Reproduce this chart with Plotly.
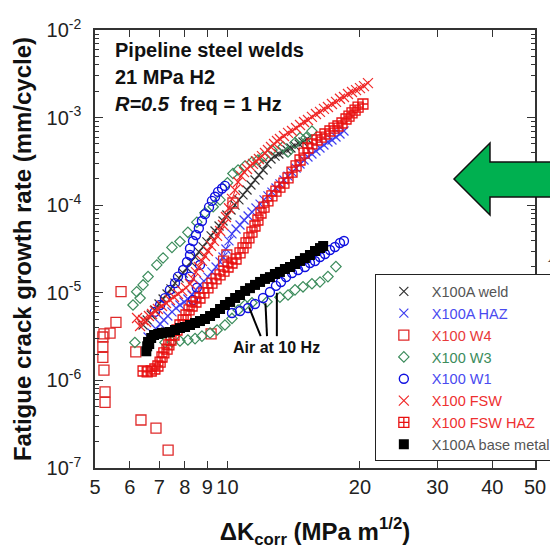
import math
import plotly.graph_objects as go

# ---------------- data (ΔK in MPa m^1/2, da/dN in mm/cycle) ----------------
weld_k = [6.43, 6.57, 6.71, 6.84, 6.99, 7.14, 7.29, 7.44, 7.60, 7.76, 7.93, 8.09, 8.26, 8.44,
          8.61, 8.80, 8.98, 9.18, 9.37, 9.57, 9.77, 9.97, 10.19, 10.40, 10.62, 10.85, 11.08,
          11.31, 11.55, 11.79, 12.05, 12.30, 12.56, 12.83, 13.09, 13.37, 13.65, 13.94, 14.24,
          14.55, 14.85, 15.17]
weld_da = [4.29e-6, 4.89e-6, 5.58e-6, 6.37e-6, 7.45e-6, 8.5e-6, 9.69e-6, 1.11e-5, 1.29e-5,
           1.47e-5, 1.68e-5, 1.92e-5, 2.25e-5, 2.57e-5, 2.93e-5, 3.34e-5, 3.81e-5, 4.46e-5,
           5.07e-5, 5.79e-5, 6.6e-5, 7.73e-5, 8.81e-5, 1.0e-4, 1.15e-4, 1.31e-4, 1.49e-4,
           1.70e-4, 1.94e-4, 2.21e-4, 2.52e-4, 2.96e-4, 3.37e-4, 3.64e-4, 3.84e-4, 4.05e-4,
           4.27e-4, 4.5e-4, 4.75e-4, 5.0e-4, 5.27e-4, 5.7e-4]

haz_k = [6.60, 6.74, 6.88, 7.03, 7.17, 7.32, 7.48, 7.64, 7.80, 7.97, 8.13, 8.31, 8.48, 8.66,
         8.84, 9.03, 9.22, 9.42, 9.62, 9.77, 9.92, 10.08, 10.24, 10.46, 10.68, 10.91, 11.14,
         11.37, 11.61, 11.86, 12.11, 12.36, 12.62, 12.89, 13.16, 13.44, 13.73, 14.02, 14.32,
         14.62, 14.93, 15.24, 15.56, 15.89, 16.23, 16.57, 16.92, 17.28, 17.65, 18.02, 18.40]
haz_da = [3.13e-6, 3.47e-6, 3.86e-6, 4.40e-6, 4.89e-6, 5.44e-6, 6.05e-6, 6.7e-6, 7.26e-6,
          7.85e-6, 8.5e-6, 9.44e-6, 1.08e-5, 1.23e-5, 1.36e-5, 1.51e-5, 1.73e-5, 1.97e-5,
          2.25e-5, 2.56e-5, 3.16e-5, 3.91e-5, 4.7e-5, 5.35e-5, 5.94e-5, 6.78e-5, 7.53e-5,
          8.36e-5, 9.3e-5, 1.03e-4, 1.15e-4, 1.28e-4, 1.41e-4, 1.57e-4, 1.75e-4, 1.94e-4,
          2.15e-4, 2.39e-4, 2.65e-4, 2.95e-4, 3.28e-4, 3.55e-4, 3.84e-4, 4.16e-4, 4.5e-4,
          4.87e-4, 5.27e-4, 5.55e-4, 6.0e-4, 6.5e-4, 7.03e-4]

w4_k = [5.73, 5.58, 5.41, 5.24, 5.21, 5.21, 5.21, 5.24, 5.27, 5.27, 6.19, 6.36, 6.88, 7.33,
        9.18, 9.80, 9.97, 10.29]
w4_da = [1.03e-5, 4.6e-6, 3.47e-6, 3.4e-6, 3.13e-6, 2.43e-6, 1.83e-6, 1.31e-6, 7.4e-7, 5.6e-7,
         2.12e-6, 3.53e-7, 2.85e-7, 1.6e-7, 3.4e-6, 2.3e-5, 2.7e-5, 1.06e-4]

w3_k = [6.16, 6.10, 6.22, 6.33, 6.43, 6.60, 6.91, 7.14, 7.48, 7.80, 8.13, 8.52, 8.89, 9.28, 9.62,
        10.0, 10.29, 10.57, 10.96, 11.37, 11.73, 12.05, 12.62, 13.37, 13.73, 14.24, 14.62,
        15.09, 15.56,
        7.21, 7.48, 7.80, 8.13, 8.44, 8.75, 9.13, 9.47, 9.87, 10.24, 10.57, 10.96, 11.37,
        12.3, 13.16, 13.73, 14.24, 14.85, 15.56, 16.23, 16.92, 17.64]
w3_da = [2.71e-6, 7.26e-6, 1.03e-5, 8.7e-6, 1.23e-5, 1.53e-5, 2.08e-5, 2.5e-5, 3.3e-5, 3.85e-5,
         4.9e-5, 6.4e-5, 8.2e-5, 9.6e-5, 1.15e-4, 1.8e-4, 2.3e-4, 2.52e-4, 2.8e-4, 3.1e-4,
         3.28e-4, 3.55e-4, 4.27e-4, 4.65e-4, 4.05e-4, 5.15e-4, 5.9e-4, 5.9e-4, 7.0e-4,
         2.71e-6, 2.75e-6, 2.82e-6, 2.89e-6, 3.0e-6, 3.2e-6, 3.47e-6, 3.76e-6, 4.29e-6, 5.1e-6,
         6.37e-6, 7.26e-6, 7.7e-6, 7.9e-6, 8.9e-6, 9.44e-6, 1.08e-5, 1.17e-5, 1.27e-5, 1.33e-5,
         1.53e-5, 1.99e-5]

w1_k = [6.84, 7.03, 7.21, 7.40, 7.60, 7.72, 7.93, 8.09, 8.22, 8.22, 8.35, 8.48, 8.61, 8.75, 8.89,
        9.08, 9.22, 9.37, 9.52, 9.72, 9.87, 8.35, 8.52, 8.22, 8.66,
        10.24, 10.68, 11.14, 11.55, 12.05, 12.49, 12.89, 13.23, 13.59, 14.02, 14.47, 15.0,
        15.40, 15.81, 16.23, 16.66, 17.10, 17.55, 18.02, 18.4]
w1_da = [6.05e-6, 7.26e-6, 8.7e-6, 1.08e-5, 1.29e-5, 1.53e-5, 1.82e-5, 2.25e-5, 2.70e-5, 3.2e-5,
         3.9e-5, 4.57e-5, 5.45e-5, 6.6e-5, 7.9e-5, 9.5e-5, 1.12e-4, 1.25e-4, 1.42e-4, 1.55e-4,
         1.66e-4, 8.28e-6, 1.14e-5, 1.53e-5, 2.08e-5,
         5.88e-6, 6.20e-6, 6.70e-6, 7.45e-6, 8.73e-6, 1.02e-5, 1.20e-5, 1.33e-5, 1.51e-5, 1.68e-5,
         1.82e-5, 1.97e-5, 2.19e-5, 2.31e-5, 2.56e-5, 2.77e-5, 3.08e-5, 3.33e-5, 3.70e-5, 3.90e-5]

fsw_k = [6.23, 6.33, 6.43, 6.53, 6.63, 6.74, 6.84, 6.95, 7.10, 7.25, 7.40, 7.56, 7.72, 7.89,
         8.05, 8.22, 8.35, 8.48, 8.61, 8.75, 8.89, 9.03, 9.18, 9.32, 9.47, 9.62, 9.77, 9.92,
         10.08, 10.24, 10.40, 10.57, 10.74, 10.91, 11.08, 11.25, 11.43, 11.61, 11.79, 11.98,
         12.17, 12.36, 12.56, 12.76, 12.96, 13.16, 13.44, 13.73, 14.02, 14.32, 14.62, 14.93,
         15.24, 15.56, 15.89, 16.23, 16.57, 16.92, 17.28, 17.65, 18.02, 18.40, 18.79, 19.19,
         19.60, 20.01, 20.43, 20.86]
fsw_da = [5.16e-6, 4.18e-6, 4.89e-6, 4.64e-6, 5.44e-6, 5.73e-6, 6.2e-6, 6.54e-6, 7.07e-6,
          7.65e-6, 8.28e-6, 8.96e-6, 9.69e-6, 1.05e-5, 1.14e-5, 1.26e-5, 1.44e-5, 1.72e-5,
          1.97e-5, 2.31e-5, 2.63e-5, 3.0e-5, 3.43e-5, 3.91e-5, 4.46e-5, 5.07e-5, 5.94e-5,
          7.34e-5, 9.24e-5, 1.18e-4, 1.49e-4, 1.84e-4, 2.15e-4, 2.39e-4, 2.59e-4, 2.81e-4,
          2.96e-4, 3.19e-4, 3.37e-4, 3.64e-4, 3.94e-4, 4.27e-4, 4.62e-4, 5.0e-4, 5.41e-4,
          5.7e-4, 6.17e-4, 6.68e-4, 7.03e-4, 7.6e-4, 8.24e-4, 8.91e-4, 9.39e-4, 1.02e-3,
          1.10e-3, 1.16e-3, 1.26e-3, 1.32e-3, 1.43e-3, 1.51e-3, 1.64e-3, 1.72e-3, 1.86e-3,
          1.96e-3, 2.06e-3, 2.17e-3, 2.29e-3, 2.48e-3]

fswhaz_k = [6.43, 6.57, 6.71, 6.84, 6.95, 7.03, 7.10, 7.17, 7.29, 7.36, 7.44, 7.56, 7.68, 7.80,
            7.93, 8.05, 8.18, 8.31, 8.48, 8.66, 8.84, 9.03, 9.22, 9.42, 9.62, 9.82, 10.03,
            10.24, 10.46, 10.68, 10.85, 11.02, 11.19, 11.37, 11.55, 11.73, 11.92, 12.11, 12.36,
            12.62, 12.89, 13.16, 13.44, 13.73, 14.02, 14.32, 14.62, 14.93, 15.24, 15.56, 15.98,
            16.32, 16.66, 17.10, 17.47, 17.83, 18.21, 18.60, 18.89, 19.19, 19.50, 19.81, 20.32]
fswhaz_da = [1.28e-6, 1.25e-6, 1.28e-6, 1.35e-6, 1.46e-6, 1.62e-6, 1.85e-6, 2.06e-6, 2.28e-6,
             2.54e-6, 2.89e-6, 3.30e-6, 3.76e-6, 4.29e-6, 4.89e-6, 5.58e-6, 6.37e-6, 7.07e-6,
             7.85e-6, 8.72e-6, 9.98e-6, 1.14e-5, 1.29e-5, 1.44e-5, 1.60e-5, 1.77e-5, 1.97e-5,
             2.19e-5, 2.43e-5, 2.85e-5, 3.25e-5, 3.71e-5, 4.23e-5, 4.94e-5, 5.79e-5, 6.78e-5,
             8.15e-5, 9.49e-5, 1.12e-4, 1.28e-4, 1.45e-4, 1.61e-4, 1.79e-4, 2.05e-4, 2.39e-4,
             2.81e-4, 3.28e-4, 3.94e-4, 4.50e-4, 5.0e-4, 5.55e-4, 6.0e-4, 6.5e-4, 7.03e-4,
             7.6e-4, 8.02e-4, 8.68e-4, 9.64e-4, 1.04e-3, 1.13e-3, 1.22e-3, 1.32e-3, 1.43e-3]

base_k = [6.54, 6.57, 6.60, 6.64, 6.71, 6.81, 6.96, 7.10, 7.25, 7.40, 7.60, 7.80, 8.01, 8.22,
          8.44, 8.66, 8.89, 9.13, 9.37, 9.62, 9.87, 10.14, 10.41, 10.68, 10.97, 11.25, 11.55,
          11.86, 12.17, 12.49, 12.82, 13.16, 13.51, 13.87, 14.24, 14.62, 15.0, 15.40, 15.81,
          16.23, 16.5]
base_da = [2.15e-6, 2.45e-6, 2.75e-6, 2.60e-6, 3.05e-6, 3.30e-6, 3.39e-6, 3.48e-6, 3.52e-6,
           3.57e-6, 3.76e-6, 3.96e-6, 4.07e-6, 4.29e-6, 4.52e-6, 4.76e-6, 5.02e-6, 5.43e-6,
           5.88e-6, 6.53e-6, 7.26e-6, 7.86e-6, 8.73e-6, 9.44e-6, 1.05e-5, 1.13e-5, 1.23e-5,
           1.33e-5, 1.44e-5, 1.51e-5, 1.64e-5, 1.73e-5, 1.87e-5, 1.97e-5, 2.13e-5, 2.31e-5,
           2.49e-5, 2.70e-5, 3.0e-5, 3.24e-5, 3.42e-5]

x_ticks = [5, 6, 7, 8, 9, 10, 20, 30, 40, 50]
y_ticks = [1e-7, 1e-6, 1e-5, 1e-4, 1e-3, 1e-2]
y_tick_text = ["10<sup>-7</sup>", "10<sup>-6</sup>", "10<sup>-5</sup>", "10<sup>-4</sup>",
               "10<sup>-3</sup>", "10<sup>-2</sup>"]
y_minor = [m * d for d in y_ticks[:-1] for m in range(2, 10)]

FONT = "Liberation Sans, Arial, sans-serif"

fig = go.Figure()


def leg(name, color):
    return f"<span style='color:{color}'>{name}</span>"


# thin lines joining the cross series (no legend entry)
for k, d, c in [(weld_k, weld_da, "#333333"), (haz_k, haz_da, "#3a3aee"), (fsw_k, fsw_da, "#ee2222")]:
    fig.add_trace(go.Scatter(x=k, y=d, mode="lines", line=dict(color=c, width=1),
                             showlegend=False, hoverinfo="skip"))

fig.add_trace(go.Scatter(x=weld_k, y=weld_da, mode="markers", name=leg("X100A weld", "#555555"),
                         marker=dict(symbol="x-thin", size=9, line=dict(color="#333333", width=1.2))))
fig.add_trace(go.Scatter(x=haz_k, y=haz_da, mode="markers", name=leg("X100A HAZ", "#4a4af0"),
                         marker=dict(symbol="x-thin", size=9, line=dict(color="#4040f0", width=1.2))))
fig.add_trace(go.Scatter(x=w4_k, y=w4_da, mode="markers", name=leg("X100 W4", "#e83a3a"),
                         marker=dict(symbol="square-open", size=10, color="#e02a2a", line=dict(width=1.3))))
fig.add_trace(go.Scatter(x=w3_k, y=w3_da, mode="markers", name=leg("X100 W3", "#3c8c5c"),
                         marker=dict(symbol="diamond-open", size=8, color="#3c8c5c", line=dict(width=1.2))))
fig.add_trace(go.Scatter(x=w1_k, y=w1_da, mode="markers", name=leg("X100 W1", "#4a4af0"),
                         marker=dict(symbol="circle-open", size=9, color="#1010e0", line=dict(width=1.4))))
fig.add_trace(go.Scatter(x=fsw_k, y=fsw_da, mode="markers", name=leg("X100 FSW", "#ee3030"),
                         marker=dict(symbol="x-thin", size=10, line=dict(color="#f02a2a", width=1.2))))
fig.add_trace(go.Scatter(x=fswhaz_k, y=fswhaz_da, mode="markers", name=leg("X100 FSW HAZ", "#ee3030"),
                         marker=dict(symbol="square-cross-open", size=10, color="#e81010", line=dict(width=1.3))))
fig.add_trace(go.Scatter(x=base_k, y=base_da, mode="markers", name=leg("X100A base metal", "#555555"),
                         marker=dict(symbol="square", size=10, color="#000000")))

# ---- green arrow (paper coordinates) ----
fig.add_shape(type="path", xref="paper", yref="paper",
              path="M 0.8159 0.6598 L 0.8977 0.7420 L 0.8977 0.6986 L 1.08 0.6986 "
                   "L 1.08 0.6187 L 0.8977 0.6187 L 0.8977 0.5776 Z",
              fillcolor="#00b050", line=dict(color="#111111", width=1.5), layer="above")

# ---- "Air at 10 Hz" pointer lines ----
for (x0, y0, x1, y1) in [(11.9, 3.2e-6, 11.2, 6.8e-6), (12.3, 3.2e-6, 12.2, 7.6e-6),
                         (12.95, 3.2e-6, 12.95, 1.0e-5)]:
    fig.add_shape(type="line", xref="x", yref="y", x0=x0, y0=y0, x1=x1, y1=y1,
                  line=dict(color="#000000", width=2))

fig.add_annotation(x=math.log10(12.9), y=math.log10(2.35e-6), xref="x", yref="y",
                   text="<b>Air at 10 Hz</b>", showarrow=False,
                   font=dict(family=FONT, size=16, color="#111111"))

for txt, yy in [("<b>Pipeline steel welds</b>", 0.954), ("<b>21 MPa H2</b>", 0.892),
                ("<b><i>R=0.5</i>  freq = 1 Hz</b>", 0.832)]:
    fig.add_annotation(x=0.041, y=yy, xref="paper", yref="paper", text=txt, showarrow=False,
                       xanchor="left", yanchor="middle", font=dict(family=FONT, size=20, color="#111111"))

# cropped italic glyph at the right edge of the original slide
fig.add_annotation(x=1.025, y=0.482, xref="paper", yref="paper", text="<i>A</i>", showarrow=False,
                   xanchor="left", yanchor="middle",
                   font=dict(family="Liberation Serif, serif", size=17, color="#444444"))

fig.update_layout(
    width=550, height=554,
    margin=dict(l=95, r=15, t=30, b=86, autoexpand=False),
    paper_bgcolor="white", plot_bgcolor="white",
    font=dict(family=FONT, color="#111111"),
    legend=dict(x=0.636, y=0.442, xanchor="left", yanchor="top",
                bordercolor="#222222", borderwidth=1, bgcolor="white",
                font=dict(family=FONT, size=14.5, color="#555555"),
                itemwidth=46, tracegroupgap=0),
    xaxis=dict(type="log", range=[0.69897, 1.69897], tickvals=x_ticks,
               ticktext=[str(v) for v in x_ticks], ticks="inside", ticklen=7, tickwidth=1.2,
               tickcolor="#333333", showline=True, linecolor="#333333", linewidth=1.5,
               mirror="allticks", showgrid=False, zeroline=False,
               tickfont=dict(family=FONT, size=20, color="#222222"),
               title=dict(text="<b>ΔK<sub>corr</sub> (MPa m<sup>1/2</sup>)</b>",
                          font=dict(family=FONT, size=24, color="#111111"), standoff=26)),
    yaxis=dict(type="log", range=[-7, -2], tickvals=y_ticks, ticktext=y_tick_text,
               ticks="inside", ticklen=8, tickwidth=1.2, tickcolor="#333333",
               showline=True, linecolor="#333333", linewidth=1.5, mirror="allticks",
               showgrid=False, zeroline=False, ticklabelstandoff=8,
               minor=dict(tickvals=y_minor, ticks="inside", ticklen=4, tickcolor="#333333",
                          showgrid=False),
               tickfont=dict(family=FONT, size=20, color="#222222"),
               title=dict(text="<b>Fatigue crack growth rate (mm/cycle)</b>",
                          font=dict(family=FONT, size=24, color="#111111"), standoff=8)),
)

fig.write_html("out.html")
